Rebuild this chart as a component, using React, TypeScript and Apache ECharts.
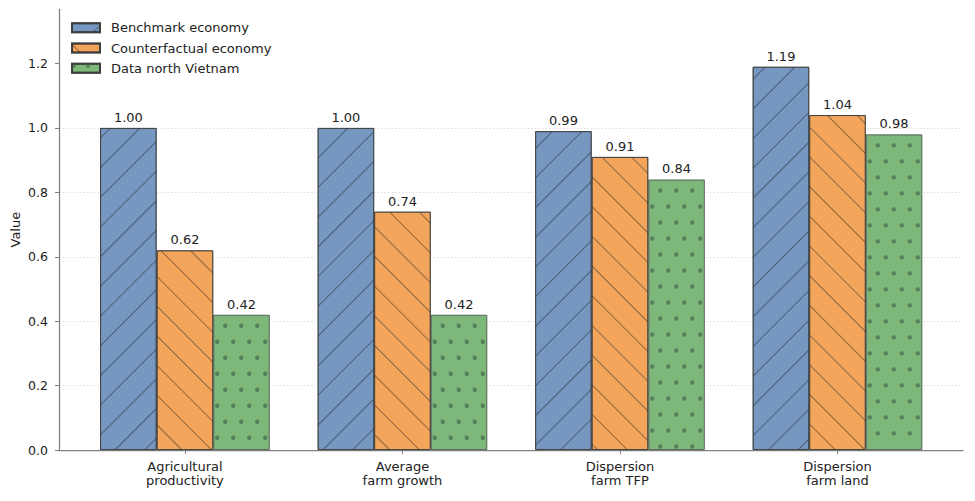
import React, { useEffect, useRef } from "react";
import * as echarts from "echarts";

const categories = ["Agricultural\nproductivity", "Average\nfarm growth", "Dispersion\nfarm TFP", "Dispersion\nfarm land"];
const seriesNames = ["Benchmark economy", "Counterfactual economy", "Data north Vietnam"];
const benchmark = [1.0, 1.0, 0.99, 1.19];
const counterfactual = [0.62, 0.74, 0.91, 1.04];
const dataNorth = [0.42, 0.42, 0.84, 0.98];
const yTicks = [0, 0.2, 0.4, 0.6, 0.8, 1.0, 1.2];
const categoryPositions = [0, 1, 2, 3];

const FONT = "DejaVu Sans";
const BAR_FRACTION = 0.26;

export default function App() {
  const ref = useRef<HTMLDivElement>(null);
  useEffect(() => {
    if (!ref.current) return;
    const chart = echarts.init(ref.current, null, { renderer: "svg" });
    const hatch = (rot: number) => ({
      symbol: "rect",
      symbolSize: 1,
      dashArrayX: [1, 0],
      dashArrayY: [1, 20],
      rotation: rot,
      color: "rgba(25,25,25,0.45)",
    });
    const colors = ["#7597c0", "#f3a65b", "#7db77a"];
    const decals: any[] = [hatch(-Math.PI / 4), hatch(Math.PI / 4), undefined];
    const values = [benchmark, counterfactual, dataNorth];
    const series: any[] = values.map((vals, si) => ({
      type: "bar",
      name: seriesNames[si],
      data: vals.map((v, i) => [categoryPositions[i], v]),
      barWidth: BAR_FRACTION * 100 + "%",
      barGap: "0%",
      itemStyle: {
        color: colors[si],
        borderColor: "rgba(55,55,55,0.8)",
        borderWidth: 0.9,
        decal: decals[si],
      },
      label: {
        show: true,
        position: "top",
        distance: 4,
        formatter: (p: any) => Number(p.value[1]).toFixed(2),
        fontFamily: FONT,
        fontSize: 13,
        color: "#222",
      },
      z: 2,
    }));
    // dotted hatch overlay for the third series
    series.push({
      type: "custom",
      name: "dots",
      z: 3,
      silent: true,
      data: dataNorth.map((v, i) => [categoryPositions[i], v]),
      renderItem: (params: any, api: any) => {
        const x = api.value(0);
        const y = api.value(1);
        const topPt = api.coord([x, y]);
        const basePt = api.coord([x, 0]);
        const w = api.size([BAR_FRACTION, 0])[0];
        const left = topPt[0] + w / 2;
        const right = left + w;
        const children: any[] = [];
        let r = 0;
        for (let cy = topPt[1] + 11; cy < basePt[1] - 1; cy += 16, r++) {
          for (let cx = left + (r % 2 === 0 ? 12 : 4); cx < right - 1; cx += 16) {
            children.push({
              type: "circle",
              shape: { cx, cy, r: 2.2 },
              style: { fill: "#56805a" },
            });
          }
        }
        return { type: "group", children };
      },
    });
    chart.setOption({
      animation: false,
      backgroundColor: "#fff",
      textStyle: { fontFamily: FONT },
      grid: { left: 59, right: 12, top: 9.3, bottom: 51, outerBoundsMode: "none", containLabel: false },
      legend: {
        orient: "vertical",
        left: 71,
        top: 20.7,
        padding: 0,
        icon: "rect",
        itemWidth: 28,
        itemHeight: 9,
        itemGap: 6.3,
        data: [
          { name: seriesNames[0] },
          { name: seriesNames[1] },
          {
            name: seriesNames[2],
            itemStyle: {
              decal: {
                symbol: "circle",
                symbolSize: 1,
                dashArrayX: [4, 10],
                dashArrayY: [4, 6],
                color: "#56805a",
              },
            },
          },
        ],
        textStyle: { fontFamily: FONT, fontSize: 13, color: "#222", lineHeight: 14, padding: [0, 0, 0, 6] },
      },
      xAxis: {
        type: "value",
        min: -0.579,
        max: 3.577,
        splitLine: { show: false },
        axisLine: { show: true, onZero: false, lineStyle: { color: "#808080", width: 1.25 } },
        axisTick: { show: true, customValues: categoryPositions, length: 4, lineStyle: { color: "#808080", width: 1 } },
        axisLabel: {
          customValues: categoryPositions,
          formatter: (v: number) => categories[Math.round(v)] ?? "",
          fontFamily: FONT,
          fontSize: 13,
          lineHeight: 14.5,
          color: "#222",
          margin: 9,
        },
      },
      yAxis: {
        type: "value",
        min: 0,
        max: 1.3685,
        name: "Value",
        nameLocation: "middle",
        nameGap: 37,
        nameMoveOverlap: false,
        nameTextStyle: { fontFamily: FONT, fontSize: 13, color: "#222" },
        axisLine: { show: true, onZero: false, lineStyle: { color: "#808080", width: 1.25 } },
        axisTick: { show: true, customValues: yTicks, length: 4, lineStyle: { color: "#808080", width: 1 } },
        axisLabel: {
          customValues: yTicks,
          formatter: (v: number) => v.toFixed(1),
          fontFamily: FONT,
          fontSize: 12.5,
          color: "#222",
          margin: 11,
        },
        splitLine: {
          show: true,
          showMinLine: false,
          showMaxLine: false,
          lineStyle: { color: "#d4d4d4", width: 0.8, type: [1.5, 2] },
        },
      },
      series,
    });
    return () => chart.dispose();
  }, []);
  return <div ref={ref} style={{ position: "absolute", left: 0, top: 0, width: 975, height: 501 }} />;
}
